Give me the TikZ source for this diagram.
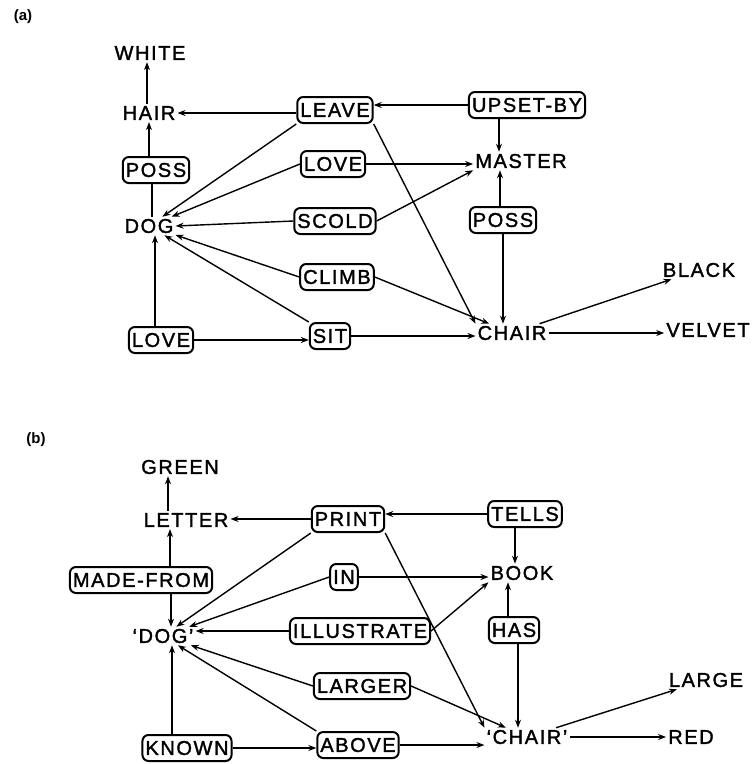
\documentclass[tikz,border=0pt]{standalone}
\usepackage{fontspec}
\setmainfont{Liberation Sans}
\newfontfamily\labfont[LetterSpace=8,FakeBold=1.6]{Liberation Sans}
\usetikzlibrary{arrows.meta}
\begin{document}
\begin{tikzpicture}[x=1pt,y=-1pt,
  lbl/.style={inner sep=2pt, font=\labfont\fontsize{20}{22}\selectfont},
  rel/.style={draw, rounded corners=6pt, line width=2pt, inner xsep=3pt, inner ysep=2pt,
    minimum height=26pt, font=\labfont\fontsize{20}{22}\selectfont},
  part/.style={inner sep=0pt, font=\bfseries\fontsize{15}{17}\selectfont},
  con/.style={line width=1.4pt},
  arr/.style={con, -{Stealth[length=8pt,width=6pt]}}]
\useasboundingbox (0,0) rectangle (752,764);
% ---------------- (a) ----------------
\node[part] (pa) at (23,17) {(a)};
\node[lbl] (white) at (150,53) {WHITE};
\node[lbl] (hair) at (149,113) {HAIR};
\node[rel] (possA) at (156,170) {POSS};
\node[lbl] (dog) at (149,226) {DOG};
\node[rel] (loveB) at (161,340) {LOVE};
\node[rel] (leave) at (335,110) {LEAVE};
\node[rel] (loveA) at (333,164) {LOVE};
\node[rel] (scold) at (335,221) {SCOLD};
\node[rel] (climb) at (337,277) {CLIMB};
\node[rel] (sit) at (330,336) {SIT};
\node[rel] (upset) at (527,105) {UPSET-BY};
\node[lbl] (master) at (521,161) {MASTER};
\node[rel] (possB) at (503,220) {POSS};
\node[lbl] (chair) at (512,333) {CHAIR};
\node[lbl] (black) at (699,270) {BLACK};
\node[lbl] (velvet) at (708,330) {VELVET};

\draw[arr] ([xshift=-2pt]hair.north) -- ([xshift=-2pt]hair.north |- white.south);
\draw[arr] (possA.north -| hair) -- (hair.south);
\draw[con] ([xshift=3pt]possA.south -| dog) -- ([xshift=3pt]dog.north);
\draw[arr] ([xshift=-6pt]loveB.north) -- ([xshift=6pt]dog.south);
\draw[arr] (loveB.east) -- (loveB.east -| sit.west);
\draw[arr] ([yshift=-3pt]leave.west) -- (hair.east);
\draw[arr] (leave.south west) -- (dog);
\draw[arr] (loveA.west) -- (dog);
\draw[arr] (scold.west) -- (dog.east);
\draw[arr] (climb.west) -- (dog);
\draw[arr] (sit.north west) -- (dog);
\draw[arr] (upset.west) -- (upset.west -| leave.east);
\draw[arr] ([xshift=-28pt]upset.south) -- ([xshift=-28pt]upset.south |- master.north);
\draw[arr] (loveA.east) -- (loveA.east -| master.west);
\draw[arr] (scold.east) -- (master.south west);
\draw[arr] ([xshift=-3pt]possB.north) -- ([xshift=-3pt]possB.north |- master.south);
\draw[arr] (possB.south) -- (possB.south |- chair.north);
\draw[arr] (leave.south east) -- (chair.north west);
\draw[arr] (climb.east) -- (chair);
\draw[arr] (sit.east) -- (sit.east -| chair.west);
\draw[arr] (chair) -- (black);
\draw[arr] (chair.east) -- (chair.east -| velvet.west);

% ---------------- (b) ----------------
\node[part] (pb) at (36,440) {(b)};
\node[lbl] (green) at (180,467) {GREEN};
\node[lbl] (letter) at (186,520) {LETTER};
\node[rel] (made) at (141,580) {MADE-FROM};
\node[lbl] (dogb) at (163,636) {\textquoteleft DOG\textquoteright};
\node[rel] (known) at (187,748) {KNOWN};
\node[rel] (print) at (348,519) {PRINT};
\node[rel] (in) at (344,577) {IN};
\node[rel] (illus) at (360,631) {ILLUSTRATE};
\node[rel] (larger) at (362,686) {LARGER};
\node[rel] (above) at (358,745) {ABOVE};
\node[rel] (tells) at (525,514) {TELLS};
\node[lbl] (book) at (522,573) {BOOK};
\node[rel] (has) at (514,630) {HAS};
\node[lbl] (chairb) at (527,737) {\textquoteleft CHAIR\textquoteright};
\node[lbl] (large) at (706,680) {LARGE};
\node[lbl] (red) at (691,737) {RED};

\draw[arr] ([xshift=-18pt]letter.north) -- ([xshift=-18pt]letter.north |- green.south);
\draw[arr] ([xshift=29pt]made.north) -- ([xshift=29pt]made.north |- letter.south);
\draw[arr] ([xshift=30pt]made.south) -- ([xshift=30pt]made.south |- dogb.north);
\draw[arr] ([xshift=-15pt]known.north) -- ([xshift=-15pt]known.north |- dogb.south);
\draw[arr] (known.east) -- (known.east -| above.west);
\draw[arr] (print.west) -- (print.west -| letter.east);
\draw[arr] (print.south west) -- (dogb);
\draw[arr] (in.west) -- (dogb);
\draw[arr] (in.east) -- (in.east -| book.west);
\draw[arr] (illus.west) -- (illus.west -| dogb.east);
\draw[arr] (illus.east) -- (book.south west);
\draw[arr] (larger.west) -- (dogb);
\draw[arr] (larger.east) -- (chairb);
\draw[arr] (above.north west) -- (dogb);
\draw[arr] (above.east) -- (above.east -| chairb.west);
\draw[arr] (print.south east) -- (chairb.north west);
\draw[arr] (tells.west) -- (tells.west -| print.east);
\draw[arr] ([xshift=-10pt]tells.south) -- ([xshift=-10pt]tells.south |- book.north);
\draw[arr] ([xshift=-6pt]has.north) -- ([xshift=-6pt]has.north |- book.south);
\draw[arr] ([xshift=4pt]has.south) -- ([xshift=4pt]has.south |- chairb.north);
\draw[arr] (chairb) -- (large);
\draw[arr] (chairb.east) -- (chairb.east -| red.west);
\end{tikzpicture}
\end{document}
